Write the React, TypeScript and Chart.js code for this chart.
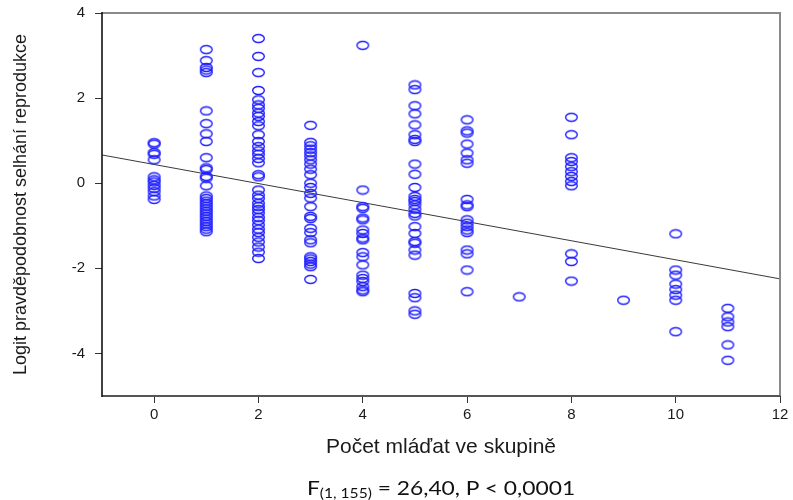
import React, { useEffect, useRef } from "react";
import { Chart, registerables } from "chart.js";

Chart.register(...registerables);

// Group size categories (x) and logit values (y) per group
const groupSizes = [0, 1, 2, 3, 4, 5, 6, 7, 8, 9, 10, 11];

const logit0 = [0.95, 0.92, 0.72, 0.68, 0.55, 0.15, 0.08, 0.03, -0.05, -0.12, -0.2, -0.3, -0.38];
const logit1 = [3.14, 2.88, 2.72, 2.66, 2.6, 1.7, 1.4, 1.16, 0.98, 0.6, 0.36, 0.32, 0.16, 0.12, -0.06, -0.3, -0.36, -0.42, -0.48, -0.54, -0.6, -0.66, -0.72, -0.78, -0.84, -0.9, -0.96, -1.02, -1.08, -1.14];
const logit2 = [3.4, 2.98, 2.6, 2.18, 1.96, 1.84, 1.76, 1.65, 1.57, 1.45, 1.35, 1.14, 0.98, 0.86, 0.76, 0.68, 0.58, 0.48, 0.2, 0.15, -0.16, -0.28, -0.36, -0.47, -0.55, -0.62, -0.7, -0.8, -0.88, -0.98, -1.08, -1.16, -1.27, -1.38, -1.5, -1.62, -1.77];
const logit3 = [1.36, 0.96, 0.88, 0.8, 0.72, 0.64, 0.55, 0.45, 0.33, 0.2, 0.0, -0.1, -0.24, -0.35, -0.55, -0.78, -0.83, -1.06, -1.16, -1.33, -1.4, -1.73, -1.78, -1.84, -1.9, -1.96, -2.26];
const logit4 = [3.24, -0.16, -0.55, -0.59, -0.82, -0.86, -1.1, -1.18, -1.29, -1.33, -1.63, -1.73, -1.92, -2.16, -2.24, -2.31, -2.43, -2.51, -2.55];
const logit5 = [2.31, 2.2, 1.82, 1.63, 1.37, 1.14, 1.03, 0.98, 0.45, 0.21, -0.1, -0.31, -0.38, -0.43, -0.51, -0.61, -0.71, -0.77, -1.02, -1.18, -1.37, -1.41, -1.57, -1.69, -2.59, -2.69, -3.0, -3.08];
const logit6 = [1.49, 1.23, 1.18, 0.92, 0.71, 0.55, 0.47, -0.38, -0.51, -0.55, -0.86, -0.94, -1.02, -1.1, -1.16, -1.57, -1.66, -2.04, -2.55];
const logit7 = [-2.67];
const logit8 = [1.55, 1.14, 0.6, 0.51, 0.39, 0.27, 0.16, 0.04, -0.06, -1.66, -1.84, -2.3];
const logit9 = [-2.75];
const logit10 = [-1.19, -2.04, -2.16, -2.37, -2.5, -2.63, -2.75, -3.49];
const logit11 = [-2.94, -3.14, -3.26, -3.37, -3.8, -4.16];

const logitByGroup = [logit0, logit1, logit2, logit3, logit4, logit5, logit6, logit7, logit8, logit9, logit10, logit11];

// Regression fit
const regIntercept = 0.44;
const regSlope = -0.224;
const regXRange = [-1, 12];

// Axes
const xTickValues = [0, 2, 4, 6, 8, 10, 12];
const yTickValues = [-4, -2, 0, 2, 4];
const xRange = [-1, 12];
const yRange = [-5, 4];

const xTitle = "Počet mláďat ve skupině";
const yTitle = "Logit pravděpodobnost selhání reprodukce";

export default function App() {
  const canvasRef = useRef<HTMLCanvasElement>(null);

  useEffect(() => {
    const canvas = canvasRef.current;
    if (!canvas) return;

    const points = groupSizes.flatMap((g, i) => logitByGroup[i].map((v) => ({ x: g, y: v })));
    const fit = regXRange.map((x) => ({ x, y: regIntercept + regSlope * x }));

    const marker = document.createElement("canvas");
    marker.width = 15;
    marker.height = 11;
    const mc = marker.getContext("2d")!;
    mc.strokeStyle = "#2020ff";
    mc.lineWidth = 1.4;
    mc.beginPath();
    mc.ellipse(7.5, 5.5, 5.8, 4.0, 0, 0, Math.PI * 2);
    mc.stroke();

    const framePlugin = {
      id: "frame",
      afterDraw(chart: any) {
        const { left, top, right, bottom } = chart.chartArea;
        const ctx = chart.ctx;
        ctx.save();
        ctx.strokeStyle = "#8a8a8a";
        ctx.lineWidth = 2;
        ctx.beginPath();
        ctx.moveTo(left, top);
        ctx.lineTo(right, top);
        ctx.lineTo(right, bottom);
        ctx.stroke();
        ctx.strokeStyle = "#555555";
        ctx.beginPath();
        ctx.moveTo(left, bottom);
        ctx.lineTo(right, bottom);
        ctx.stroke();
        ctx.strokeStyle = "#111111";
        ctx.lineWidth = 1.6;
        ctx.beginPath();
        ctx.moveTo(left, top - 1);
        ctx.lineTo(left, bottom + 1);
        ctx.stroke();
        ctx.restore();
      },
    };

    const tickFont = { family: "'Liberation Sans', Arial, sans-serif", size: 15 };

    const chart = new Chart(canvas, {
      type: "scatter",
      data: {
        datasets: [
          {
            label: "data",
            data: points,
            pointStyle: marker as any,
            pointRadius: 6,
            pointHoverRadius: 6,
            backgroundColor: "rgba(0,0,0,0)",
            borderColor: "#2020ff",
          },
          {
            label: "fit",
            type: "line",
            data: fit,
            borderColor: "#3a3a3a",
            borderWidth: 1,
            pointRadius: 0,
            fill: false,
            tension: 0,
          } as any,
        ],
      },
      options: {
        animation: false,
        responsive: false,
        maintainAspectRatio: false,
        devicePixelRatio: 1,
        layout: { padding: { top: 13, right: 13, bottom: 40, left: 0 } },
        plugins: {
          legend: { display: false },
          tooltip: { enabled: false },
        },
        scales: {
          x: {
            type: "linear",
            min: xRange[0],
            max: xRange[1],
            afterBuildTicks: (s: any) => {
              s.ticks = xTickValues.map((v) => ({ value: v }));
            },
            afterFit: (s: any) => {
              s.height = 64;
              s.paddingLeft = 0;
              s.paddingRight = 0;
            },
            grid: { drawOnChartArea: false, drawTicks: true, tickLength: 7, color: "#333333", lineWidth: 1 },
            border: { display: false },
            ticks: { font: tickFont, color: "#1a1a1a", padding: 3, maxRotation: 0 },
            title: {
              display: true,
              text: xTitle,
              font: { family: "'Liberation Sans', Arial, sans-serif", size: 21 },
              color: "#1a1a1a",
              padding: { top: 0, bottom: 0 },
            },
          },
          y: {
            type: "linear",
            min: yRange[0],
            max: yRange[1],
            afterBuildTicks: (s: any) => {
              s.ticks = yTickValues.map((v) => ({ value: v }));
            },
            afterFit: (s: any) => {
              s.width = 102;
              s.paddingTop = 0;
              s.paddingBottom = 0;
            },
            grid: { drawOnChartArea: false, drawTicks: true, tickLength: 7, color: "#333333", lineWidth: 1 },
            border: { display: false },
            ticks: { font: tickFont, color: "#1a1a1a", padding: 10 },
            title: {
              display: true,
              text: yTitle,
              font: { family: "'Liberation Sans', Arial, sans-serif", size: 18 },
              color: "#1a1a1a",
              padding: { top: 10, bottom: 0 },
            },
          },
        },
      },
      plugins: [framePlugin],
    });

    return () => chart.destroy();
  }, []);

  return (
    <div style={{ position: "absolute", left: 0, top: 0, width: 793, height: 500, background: "#fff" }}>
      <canvas ref={canvasRef} width={793} height={500} style={{ display: "block", width: 793, height: 500 }} />
      <div
        style={{
          position: "absolute",
          left: 441,
          top: 478,
          transform: "translateX(-50%) scaleX(1.2)",
          whiteSpace: "nowrap",
          fontFamily: "Lato, 'Noto Sans', sans-serif",
          fontSize: 19,
          lineHeight: 1,
          color: "#111",
        }}
      >
        F<span style={{ fontSize: 13, position: "relative", top: 3 }}>(1, 155)</span> = 26,40, P &lt; 0,0001
      </div>
    </div>
  );
}
